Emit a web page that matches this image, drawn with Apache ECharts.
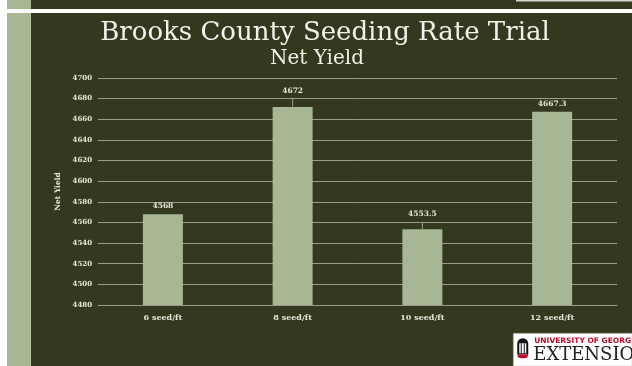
<!DOCTYPE html>
<html><head><meta charset="utf-8">
<script src="https://cdn.jsdelivr.net/npm/echarts@6/dist/echarts.min.js"></script>
<style>html,body{margin:0;padding:0;background:#33381f;}#c{width:632px;height:366px;}</style>
</head><body><div id="c"></div>
<script>
const categories = ['6 seed/ft', '8 seed/ft', '10 seed/ft', '12 seed/ft'];
const netYield = [4568, 4672, 4553.5, 4667.3];
const errorPlus = [0, 8, 7, 0];
const valueLabels = ['4568', '4672', '4553.5', '4667.3'];
const yMin = 4480, yMax = 4700, yStep = 20;

const SERIF = '"DejaVu Serif", serif';
const DARK = '#33381f';
const GREEN = '#a7b693';
const GRID = '#9a9c88';
const LIGHT = '#e6e6da';

const chart = echarts.init(document.getElementById('c'), null, {renderer: 'canvas'});
chart.setOption({
  backgroundColor: DARK,
  animation: false,
  title: [
    {text: 'Brooks County Seeding Rate Trial', left: 320, textAlign: 'center', top: 15,
     textStyle: {fontFamily: SERIF, fontSize: 26, fontWeight: 'normal', color: '#f2f2ea'}},
    {text: 'Net Yield', left: 312, textAlign: 'center', top: 44,
     textStyle: {fontFamily: SERIF, fontSize: 20, fontWeight: 'normal', color: '#f2f2ea'}}
  ],
  graphic: [
    {type: 'rect', shape: {x: 0, y: 0, width: 7, height: 366}, style: {fill: '#ffffff'}},
    {type: 'rect', shape: {x: 7, y: 0, width: 24, height: 366}, style: {fill: GREEN}},
    {type: 'rect', shape: {x: 30, y: 13, width: 1, height: 353}, style: {fill: '#b8c4a8'}},
    {type: 'rect', shape: {x: 0, y: 9, width: 632, height: 4}, style: {fill: '#ffffff'}},
    {type: 'rect', shape: {x: 516, y: 0, width: 116, height: 1.5}, style: {fill: '#d8d8d0'}},
    {type: 'group', left: 513, top: 333, children: [
      {type: 'rect', shape: {x: 0, y: 0, width: 119, height: 33}, style: {fill: '#ffffff', stroke: '#888', lineWidth: 0.5}},
      {type: 'rect', shape: {x: 4, y: 5, width: 11, height: 16, r: [5.5, 5.5, 0, 0]}, style: {fill: '#111'}},
      {type: 'rect', shape: {x: 6, y: 10, width: 7, height: 10}, style: {fill: '#fff'}},
      {type: 'rect', shape: {x: 7.5, y: 10, width: 1, height: 10}, style: {fill: '#111'}},
      {type: 'rect', shape: {x: 10.5, y: 10, width: 1, height: 10}, style: {fill: '#111'}},
      {type: 'rect', shape: {x: 4, y: 21, width: 11, height: 4, r: [0, 0, 5, 5]}, style: {fill: '#ba0c2f'}},
      {type: 'text', style: {x: 21, y: 4, text: 'UNIVERSITY OF GEORGIA', font: 'bold 7.5px "DejaVu Sans", sans-serif', fill: '#ba0c2f'}},
      {type: 'text', style: {x: 20, y: 13, text: 'EXTENSION', font: '18px "DejaVu Serif", serif', fill: '#222'}}
    ]}
  ],
  grid: {left: 98, right: 15, top: 78, bottom: 61, containLabel: false},
  xAxis: {
    type: 'category', data: categories,
    axisLine: {show: true, lineStyle: {color: GRID, width: 1}},
    axisTick: {show: false},
    axisLabel: {fontFamily: SERIF, fontWeight: 'bold', fontSize: 8, color: LIGHT, margin: 9}
  },
  yAxis: {
    type: 'value', min: yMin, max: yMax, interval: yStep,
    name: 'Net Yield', nameLocation: 'middle', nameGap: 27, nameRotate: 90,
    nameTextStyle: {fontFamily: SERIF, fontWeight: 'bold', fontSize: 7.5, color: LIGHT},
    axisLine: {show: false}, axisTick: {show: false},
    axisLabel: {fontFamily: SERIF, fontWeight: 'bold', fontSize: 7, color: LIGHT, margin: 6,
                formatter: function (v) { return String(v); }},
    splitLine: {show: true, lineStyle: {color: GRID, width: 1}}
  },
  series: [
    {type: 'bar', data: netYield, barWidth: 40,
     itemStyle: {color: GREEN}, z: 2},
    {type: 'custom', z: 3,
     data: categories.map((c, i) => [i, netYield[i], errorPlus[i]]),
     renderItem: function (params, api) {
       const i = api.value(0), v = api.value(1), e = api.value(2);
       const p0 = api.coord([i, v]);
       const p1 = api.coord([i, v + e]);
       const children = [];
       if (e > 0) {
         children.push({type: 'line', shape: {x1: p0[0], y1: p0[1], x2: p1[0], y2: p1[1]},
           style: {stroke: GRID, lineWidth: 1}});
       }
       children.push({type: 'text', style: {x: p1[0], y: p1[1] - 4, text: valueLabels[params.dataIndex],
         textAlign: 'center', textVerticalAlign: 'bottom',
         font: 'bold 7.5px "DejaVu Serif", serif', fill: LIGHT}});
       return {type: 'group', children: children};
     }}
  ]
});
</script></body></html>
